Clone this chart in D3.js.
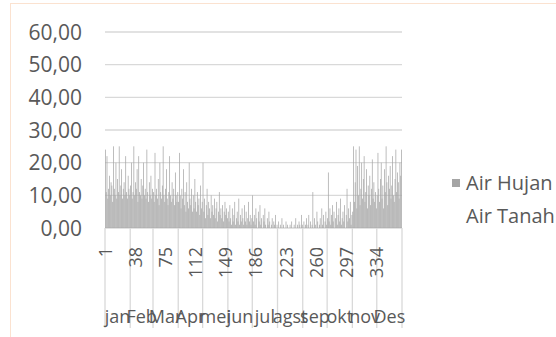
<!DOCTYPE html>
<html>
<head>
<meta charset="utf-8">
<script src="https://cdn.jsdelivr.net/npm/d3@7"></script>
<style>
  body { margin: 0; background: #fff; }
  text { font-family: "Open Sans", sans-serif; fill: #595959; }
</style>
</head>
<body>
<div id="chart"></div>
<script>
// daily rainfall (Air Hujan), one array per month
const jan = [24,11,22,9,12,16,10,14,13,8,25,12,10,20,9,15,11,25,10,13,18,9,12,14,10,22,11,9,16,12,10];
const feb = [13,20,9,11,25,10,14,12,18,8,22,11,10,15,9,13,20,10,12,9,24,11,8,14,10,16,9,12];
const mar = [11,8,23,10,12,9,15,7,20,11,9,13,25,10,8,12,18,9,7,11,22,10,8,14,9,12,7,17,10,8,11];
const apr = [8,23,10,6,12,9,18,7,11,5,14,8,6,20,9,7,12,5,10,6,15,8,5,11,7,9,4,13,6,8];
const mei = [20,5,9,3,7,12,4,8,6,3,10,5,7,4,9,3,6,8,2,5,11,4,6,3,7,2,5,8,4,6,3];
const jun = [5,2,7,3,1,6,2,4,8,1,3,5,2,9,1,4,2,6,3,1,7,2,5,1,3,8,2,4,1,3];
const jul = [10,2,4,1,6,3,0,5,2,7,1,3,0,4,2,6,1,0,3,1,5,2,0,1,3,0,2,1,4,0,1];
const agst = [0,2,0,1,0,3,0,1,0,0,2,0,1,0,0,1,0,2,0,0,1,0,3,0,1,0,2,1,0,4,1];
const sep = [0,2,0,1,3,0,1,4,0,2,0,1,11,0,3,1,0,5,2,0,1,3,0,6,1,4,0,2,5,1];
const okt = [3,17,2,6,1,4,7,2,5,0,3,8,1,4,6,2,9,1,3,5,2,7,0,4,12,2,6,3,8,1,4];
const nov = [5,25,8,14,24,6,19,10,25,7,12,20,9,15,22,8,11,18,6,13,10,16,7,12,21,9,14,8,11,6];
const des = [10,23,12,8,15,20,9,13,6,18,11,25,14,7,16,12,19,9,13,22,10,8,15,24,11,17,14,9,20,16,24];

const monthNames = ["jan","Feb","Mar","Apr","mei","jun","jul","agst","sep","okt","nov","Des"];
const monthData = [jan,feb,mar,apr,mei,jun,jul,agst,sep,okt,nov,des];
const yTicks = [0,10,20,30,40,50,60];
const dayTicks = [1,38,75,112,149,186,223,260,297,334];
const seriesNames = ["Air Hujan","Air Tanah"];

const hujan = monthData.flat();
const days = d3.range(1, hujan.length + 1);

const W = 556, H = 337;
const margin = {top: 32, right: 154, bottom: 109, left: 105};
const width = W - margin.left - margin.right,
      height = H - margin.top - margin.bottom;

const svgRoot = d3.select("#chart").append("svg")
  .attr("width", W).attr("height", H);

svgRoot.append("rect").attr("x", 10.5).attr("y", 3.5)
  .attr("width", W).attr("height", H)
  .attr("fill", "#fff").attr("stroke", "#fbe2d0");

const svg = svgRoot.append("g")
  .attr("transform", `translate(${margin.left}, ${margin.top})`);

const x = d3.scaleBand().domain(days).range([0, width]).padding(0);
const y = d3.scaleLinear().domain([0, 60]).range([height, 0]);

// grid
svg.append("g")
  .selectAll("line")
  .data(yTicks)
  .join("line")
    .attr("x1", 0).attr("x2", width)
    .attr("y1", d => y(d)).attr("y2", d => y(d))
    .attr("stroke", "#d9d9d9").attr("stroke-width", 1.3);

// y labels
svg.append("g")
  .selectAll("text")
  .data(yTicks)
  .join("text")
    .attr("x", -23).attr("y", d => y(d))
    .attr("dy", "0.36em")
    .attr("text-anchor", "end")
    .style("font-size", "21px")
    .text(d => d3.format(".2f")(d).replace(".", ","));

// bars
svg.append("g")
  .selectAll("rect")
  .data(hujan)
  .join("rect")
    .attr("x", (d, i) => x(days[i]))
    .attr("width", x.bandwidth() * 0.9)
    .attr("y", d => y(d))
    .attr("height", d => height - y(d))
    .attr("fill", "#a5a5a5");

// month boundaries
const bounds = [0];
monthData.forEach((m, i) => bounds.push(bounds[i] + m.length));
const step = x.step();
svg.append("g")
  .selectAll("line")
  .data(bounds)
  .join("line")
    .attr("x1", d => d * step).attr("x2", d => d * step)
    .attr("y1", height).attr("y2", height + 100)
    .attr("stroke", "#d9d9d9").attr("stroke-width", 1.3);

// day labels
svg.append("g")
  .selectAll("text")
  .data(dayTicks)
  .join("text")
    .attr("transform", d => `translate(${x(d) + x.bandwidth() / 2}, ${height + 19}) rotate(-90)`)
    .attr("dy", "0.36em")
    .attr("text-anchor", "end")
    .style("font-size", "18px")
    .text(d => d);

// month labels
svg.append("g")
  .selectAll("text")
  .data(monthNames)
  .join("text")
    .attr("x", (d, i) => (bounds[i] + bounds[i + 1]) / 2 * step)
    .attr("y", height + 95)
    .attr("text-anchor", "middle")
    .style("font-size", "18px")
    .text(d => d);

// legend
const legend = svgRoot.append("g").attr("transform", "translate(452, 0)");
legend.append("rect").attr("x", 0).attr("y", 179).attr("width", 8).attr("height", 8)
  .attr("fill", "#a5a5a5");
legend.selectAll("text.lg")
  .data(seriesNames)
  .join("text")
    .attr("class", "lg")
    .attr("x", 14).attr("y", (d, i) => 183 + i * 33)
    .attr("dy", "0.36em")
    .style("font-size", "20px")
    .text(d => d);
</script>
</body>
</html>
